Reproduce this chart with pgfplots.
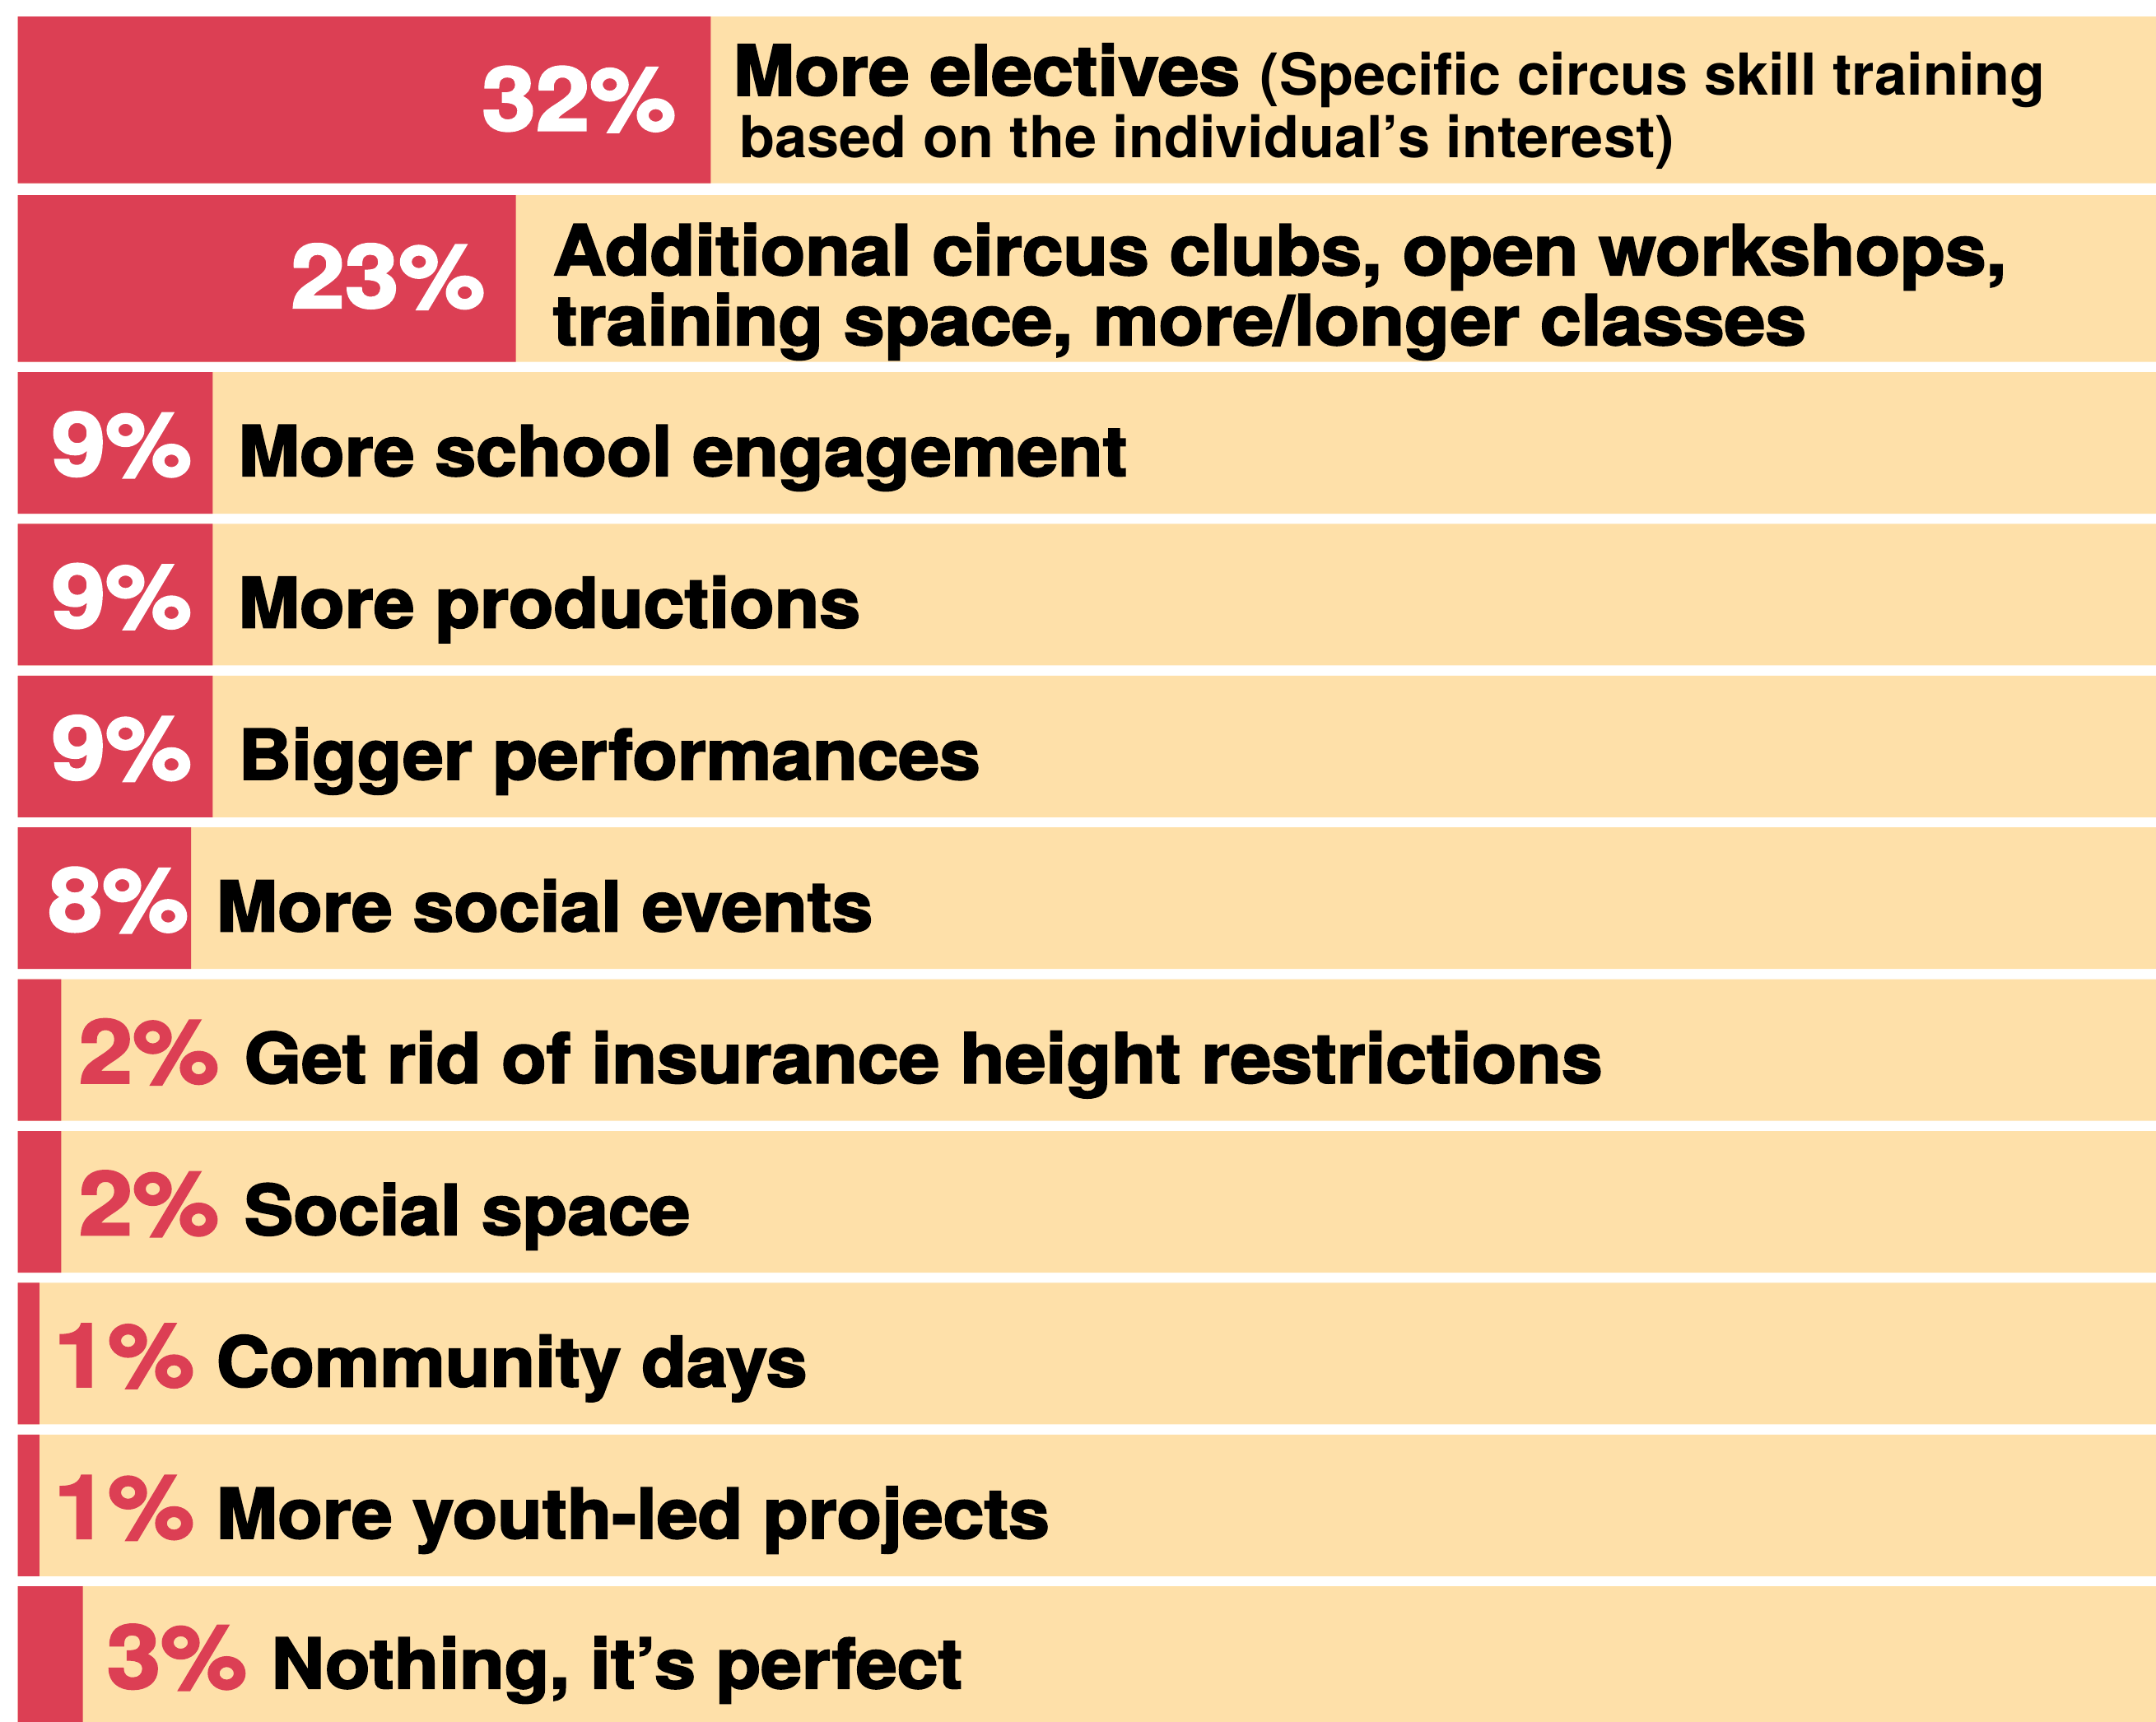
\documentclass[border=0pt]{standalone}
\usepackage{pgfplots}
\pgfplotsset{compat=1.18}
\usepackage{pgfplotstable}
\usepackage{fontspec}
\setmainfont{TeX Gyre Heros}
\newfontfamily\heavy{TeX Gyre Heros}[BoldFeatures={FakeBold=2.5, FakeStretch=1.06}]
\newfontfamily\heavypct{TeX Gyre Heros}[BoldFeatures={FakeBold=2.5, FakeStretch=1.1}]
\definecolor{barred}{RGB}{220,63,84}
\definecolor{peach}{RGB}{254,224,169}

\pgfplotstableread{
ypos val full
121.35 32 100
338.35 23 100
}\tallrows
\pgfplotstableread{
ypos val full
538.0 9 100
722.4 9 100
906.8 9 100
1091.2 8 100
1275.6 2 100
1460.0 2 100
1644.4 1 100
1828.8 1 100
2013.2 3 100
}\shortrows

\newcommand{\pctfont}{\heavypct\bfseries\fontsize{30.5}{30.5}\selectfont}
\newcommand{\labfont}{\heavy\bfseries\fontsize{24}{24}\selectfont}
\newcommand{\subfont}{\normalfont\bfseries\fontsize{20}{20}\selectfont}

\begin{document}
\begin{tikzpicture}
\begin{axis}[width=26.19cm, height=20.92cm, scale only axis, hide axis,
  xmin=-0.825, xmax=98.76, ymin=0, ymax=2092, y dir=reverse, clip=true]
\addplot[xbar, bar shift=0pt, bar width=202.7, fill=peach, draw=none] table[x=full,y=ypos]{\tallrows};
\addplot[xbar, bar shift=0pt, bar width=172, fill=peach, draw=none] table[x=full,y=ypos]{\shortrows};
\addplot[xbar, bar shift=0pt, bar width=202.7, fill=barred, draw=none] table[x=val,y=ypos]{\tallrows};
\addplot[xbar, bar shift=0pt, bar width=172, fill=barred, draw=none] table[x=val,y=ypos]{\shortrows};

% row 1
\node[anchor=base east, inner sep=0pt, text=white, font=\pctfont] at (axis cs:30.43,158.3) {32\%};
\node[anchor=base west, inner sep=0pt, font=\labfont] at (axis cs:33.02,115.7) {More electives {\subfont(Specific circus skill training}};
\node[anchor=base west, inner sep=0pt, font=\subfont] at (axis cs:33.32,191.7) {based on the individual’s interest)};
% row 2
\node[anchor=base east, inner sep=0pt, text=white, font=\pctfont] at (axis cs:21.61,373.7) {23\%};
\node[anchor=base west, inner sep=0pt, font=\labfont] at (axis cs:24.69,334) {Additional circus clubs, open workshops,};
\node[anchor=base west, inner sep=0pt, font=\labfont] at (axis cs:24.69,419) {training space, more/longer classes};
% rows 3-6 (white percentages)
\node[anchor=base west, inner sep=0pt, text=white, font=\pctfont] at (axis cs:1.53,578) {9\%};
\node[anchor=base west, inner sep=0pt, font=\labfont] at (axis cs:10.16,578) {More school engagement};
\node[anchor=base west, inner sep=0pt, text=white, font=\pctfont] at (axis cs:1.53,762.4) {9\%};
\node[anchor=base west, inner sep=0pt, font=\labfont] at (axis cs:10.16,762.4) {More productions};
\node[anchor=base west, inner sep=0pt, text=white, font=\pctfont] at (axis cs:1.53,946.8) {9\%};
\node[anchor=base west, inner sep=0pt, font=\labfont] at (axis cs:10.16,946.8) {Bigger performances};
\node[anchor=base west, inner sep=0pt, text=white, font=\pctfont] at (axis cs:1.38,1131.2) {8\%};
\node[anchor=base west, inner sep=0pt, font=\labfont] at (axis cs:9.14,1131.2) {More social events};
% rows 7-11 (red percentages)
\node[anchor=base west, inner sep=0pt, text=barred, font=\pctfont] at (axis cs:2.79,1315.6) {2\%};
\node[anchor=base west, inner sep=0pt, font=\labfont] at (axis cs:10.43,1315.6) {Get rid of insurance height restrictions};
\node[anchor=base west, inner sep=0pt, text=barred, font=\pctfont] at (axis cs:2.79,1500) {2\%};
\node[anchor=base west, inner sep=0pt, font=\labfont] at (axis cs:10.43,1500) {Social space};
\node[anchor=base west, inner sep=0pt, text=barred, font=\pctfont] at (axis cs:1.65,1684.4) {1\%};
\node[anchor=base west, inner sep=0pt, font=\labfont] at (axis cs:9.14,1684.4) {Community days};
\node[anchor=base west, inner sep=0pt, text=barred, font=\pctfont] at (axis cs:1.65,1868.8) {1\%};
\node[anchor=base west, inner sep=0pt, font=\labfont] at (axis cs:9.14,1868.8) {More youth-led projects};
\node[anchor=base west, inner sep=0pt, text=barred, font=\pctfont] at (axis cs:4.08,2051) {3\%};
\node[anchor=base west, inner sep=0pt, font=\labfont] at (axis cs:11.68,2051) {Nothing, it’s perfect};
\end{axis}
\path (current axis.south west) rectangle (current axis.north east);
\end{tikzpicture}
\end{document}
